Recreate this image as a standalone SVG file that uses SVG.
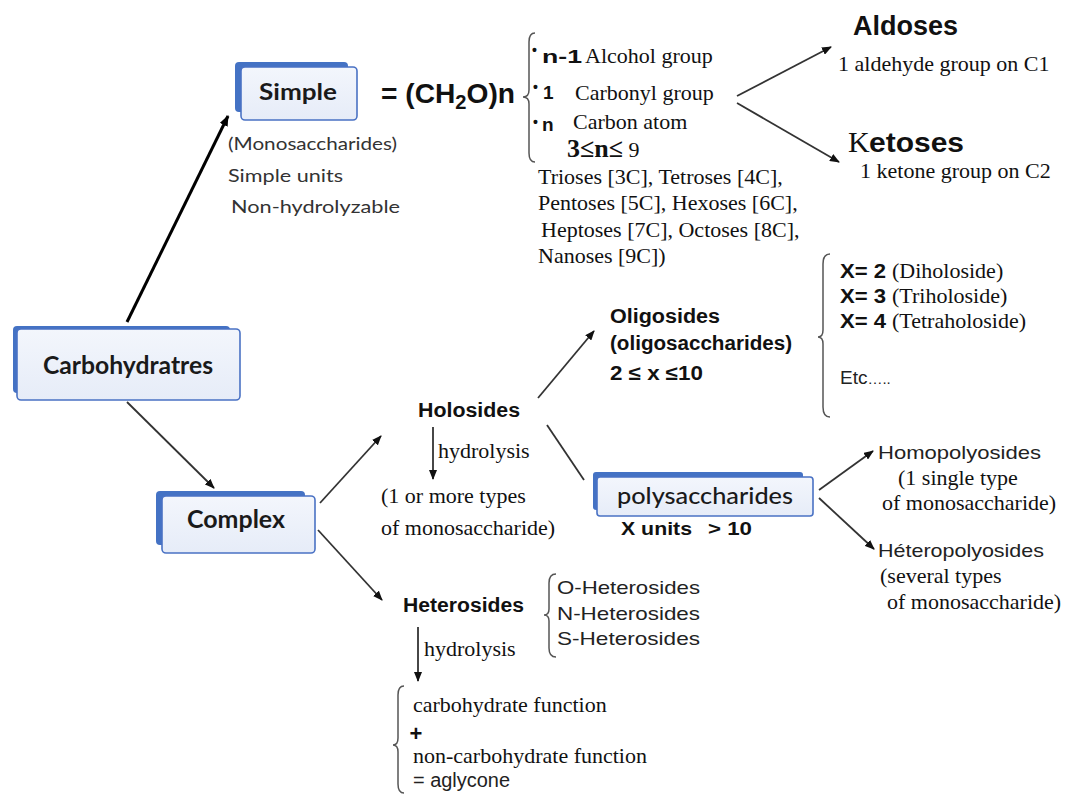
<svg xmlns="http://www.w3.org/2000/svg" width="1073" height="794" viewBox="0 0 1073 794">
<defs>
<marker id="ah" viewBox="0 0 10 8" refX="9" refY="4" markerWidth="10" markerHeight="8" markerUnits="userSpaceOnUse" orient="auto">
<path d="M0,0 L10,4 L0,8 z" fill="#111"/>
</marker>
<marker id="ahb" viewBox="0 0 10 8" refX="9" refY="4" markerWidth="11" markerHeight="9" markerUnits="userSpaceOnUse" orient="auto">
<path d="M0,0 L10,4 L0,8 z" fill="#000"/>
</marker>
<linearGradient id="bf" x1="0" y1="0" x2="0" y2="1">
<stop offset="0" stop-color="#f3f6fc"/>
<stop offset="1" stop-color="#e6ecf8"/>
</linearGradient>
</defs>
<style>
.back{fill:#4472c4}
.front{fill:url(#bf);stroke:#4a72c4;stroke-width:1.6}
.lbl{font-family:Lato,"Open Sans","Liberation Sans",sans-serif;font-weight:700;fill:#1a1a1a}
.ser{font-family:"Liberation Serif","Times New Roman",serif;fill:#111}
.sb{font-family:"Liberation Sans",Arial,sans-serif;font-weight:700;fill:#111}
.sr{font-family:"Liberation Sans",Arial,sans-serif;fill:#222}
.lt{font-family:Lato,"Open Sans",sans-serif;fill:#333}
.ln{stroke:#333;stroke-width:1.8;fill:none}
.br{stroke:#555;stroke-width:1.5;fill:none}
</style>
<rect width="1073" height="794" fill="#fff"/>

<g id="connectors">
<line x1="127" y1="322" x2="228" y2="116" stroke="#000" stroke-width="3" marker-end="url(#ahb)"/>
<line class="ln" x1="127" y1="402" x2="214" y2="488" marker-end="url(#ah)"/>
<line class="ln" x1="320" y1="503" x2="381" y2="436" marker-end="url(#ah)"/>
<line class="ln" x1="318" y1="530" x2="382" y2="600" marker-end="url(#ah)"/>
<line class="ln" x1="538" y1="398" x2="594" y2="331" marker-end="url(#ah)"/>
<line class="ln" x1="547" y1="425" x2="584" y2="480"/>
<line class="ln" x1="433" y1="427" x2="433" y2="479" marker-end="url(#ah)"/>
<line class="ln" x1="418" y1="627" x2="418" y2="681" marker-end="url(#ah)"/>
<line class="ln" x1="737" y1="96" x2="831" y2="47" marker-end="url(#ah)"/>
<line class="ln" x1="737" y1="103" x2="839" y2="162" marker-end="url(#ah)"/>
<line class="ln" x1="819" y1="490" x2="873" y2="451" marker-end="url(#ah)"/>
<line class="ln" x1="819" y1="498" x2="874" y2="549" marker-end="url(#ah)"/>
</g>

<g id="node-simple">
<rect class="back" x="235" y="62" width="113" height="50" rx="4"/>
<rect class="front" x="241" y="67" width="116" height="53" rx="4"/>
<text class="lbl" x="298" y="100" font-size="23" text-anchor="middle" textLength="78" lengthAdjust="spacingAndGlyphs">Simple</text>
</g>

<g id="simple-notes">
<text class="lt" x="228" y="150" font-size="18" textLength="169" lengthAdjust="spacingAndGlyphs">(Monosaccharides)</text>
<text class="lt" x="228" y="182" font-size="18" textLength="115" lengthAdjust="spacingAndGlyphs">Simple units</text>
<text class="lt" x="231" y="213" font-size="18" textLength="169" lengthAdjust="spacingAndGlyphs">Non-hydrolyzable</text>
</g>

<g id="formula">
<text class="sb" x="381" y="103" font-size="28" textLength="134" lengthAdjust="spacingAndGlyphs">= (CH<tspan font-size="20" dy="6">2</tspan><tspan dy="-6">O)n</tspan></text>
<path class="br" d="M535,33 Q529,33 529,42 L529,90 Q529,97 523,97 Q529,97 529,104 L529,153 Q529,162 535,162"/>
<text class="sb" x="532" y="55" font-size="14">•</text>
<text class="sb" x="542" y="63" font-size="19" textLength="40" lengthAdjust="spacingAndGlyphs">n-1</text>
<text class="ser" x="585" y="63" font-size="22">Alcohol group</text>
<text class="sb" x="533" y="92" font-size="14">•</text>
<text class="sb" x="543" y="99" font-size="19">1</text>
<text class="ser" x="575" y="100" font-size="22">Carbonyl group</text>
<text class="sb" x="533" y="127" font-size="14">•</text>
<text class="sb" x="542" y="131" font-size="19">n</text>
<text class="ser" x="573" y="129" font-size="22">Carbon atom</text>
<text class="ser" x="567" y="157" font-size="26" font-weight="700">3≤n≤<tspan font-weight="400" font-size="22"> 9</tspan></text>
<text class="ser" x="538" y="184" font-size="22">Trioses [3C], Tetroses [4C],</text>
<text class="ser" x="538" y="210" font-size="22">Pentoses [5C], Hexoses [6C],</text>
<text class="ser" x="541" y="237" font-size="22">Heptoses [7C], Octoses [8C],</text>
<text class="ser" x="538" y="263" font-size="22">Nanoses [9C])</text>
</g>

<g id="node-aldoses">
<text class="sb" x="853" y="35" font-size="27" textLength="105" lengthAdjust="spacingAndGlyphs">Aldoses</text>
<text class="ser" x="838" y="71" font-size="22">1 aldehyde group on C1</text>
</g>

<g id="node-ketoses">
<text class="ser" x="848" y="152" font-size="30">K</text>
<text class="sb" x="869" y="152" font-size="27" textLength="95" lengthAdjust="spacingAndGlyphs">etoses</text>
<text class="ser" x="860" y="178" font-size="22">1 ketone group on C2</text>
</g>

<g id="node-carbohydrates">
<rect class="back" x="13" y="326" width="217" height="67" rx="4"/>
<rect class="front" x="17" y="329" width="223" height="71" rx="4"/>
<text class="lbl" x="128" y="374" font-size="24" text-anchor="middle" textLength="170" lengthAdjust="spacingAndGlyphs">Carbohydratres</text>
</g>

<g id="node-complex">
<rect class="back" x="156" y="491" width="149" height="54" rx="4"/>
<rect class="front" x="162" y="496" width="153" height="57" rx="4"/>
<text class="lbl" x="236" y="528" font-size="24" text-anchor="middle" textLength="98" lengthAdjust="spacingAndGlyphs">Complex</text>
</g>

<g id="node-holosides">
<text class="sb" x="418" y="417" font-size="20" textLength="102" lengthAdjust="spacingAndGlyphs">Holosides</text>
<text class="ser" x="438" y="458" font-size="22">hydrolysis</text>
<text class="ser" x="381" y="503" font-size="22">(1 or more types</text>
<text class="ser" x="381" y="535" font-size="22">of monosaccharide)</text>
</g>

<g id="node-oligosides">
<text class="sb" x="610" y="323" font-size="20" textLength="110" lengthAdjust="spacingAndGlyphs">Oligosides</text>
<text class="sb" x="610" y="350" font-size="20" textLength="182" lengthAdjust="spacingAndGlyphs">(oligosaccharides)</text>
<text class="sb" x="610" y="380" font-size="20" textLength="93" lengthAdjust="spacingAndGlyphs">2 ≤ x ≤10</text>
</g>

<g id="oligo-list">
<path class="br" d="M830,254 Q823,254 823,264 L823,330 Q823,337 818,337 Q823,337 823,344 L823,407 Q823,417 830,417"/>
<text class="sb" x="840" y="278" font-size="20" textLength="46" lengthAdjust="spacingAndGlyphs">X= 2</text>
<text class="ser" x="892" y="278" font-size="22">(Diholoside)</text>
<text class="sb" x="840" y="303" font-size="20" textLength="46" lengthAdjust="spacingAndGlyphs">X= 3</text>
<text class="ser" x="892" y="303" font-size="22">(Triholoside)</text>
<text class="sb" x="840" y="328" font-size="20" textLength="46" lengthAdjust="spacingAndGlyphs">X= 4</text>
<text class="ser" x="892" y="328" font-size="22">(Tetraholoside)</text>
<text class="sr" x="840" y="384" font-size="19">Etc<tspan font-size="15">…..</tspan></text>
</g>

<g id="node-polysaccharides">
<rect class="back" x="593" y="472" width="210" height="38" rx="3"/>
<rect class="front" x="597" y="477" width="216" height="39" rx="3"/>
<text class="lbl" x="705" y="504" font-size="23" text-anchor="middle" textLength="176" lengthAdjust="spacingAndGlyphs" style="font-weight:500">polysaccharides</text>
<text class="sb" x="621" y="535" font-size="19" textLength="71" lengthAdjust="spacingAndGlyphs">X units</text>
<text class="sb" x="708" y="535" font-size="19" textLength="44" lengthAdjust="spacingAndGlyphs">&gt; 10</text>
</g>

<g id="node-homopolyosides">
<text class="sr" x="878" y="459" font-size="19" textLength="163" lengthAdjust="spacingAndGlyphs">Homopolyosides</text>
<text class="ser" x="898" y="485" font-size="22">(1 single type</text>
<text class="ser" x="882" y="510" font-size="22">of monosaccharide)</text>
</g>

<g id="node-heteropolyosides">
<text class="sr" x="878" y="557" font-size="19" textLength="166" lengthAdjust="spacingAndGlyphs">Héteropolyosides</text>
<text class="ser" x="880" y="583" font-size="22">(several types</text>
<text class="ser" x="887" y="609" font-size="22">of monosaccharide)</text>
</g>

<g id="node-heterosides">
<text class="sb" x="403" y="612" font-size="20" textLength="121" lengthAdjust="spacingAndGlyphs">Heterosides</text>
<path class="br" d="M556,574 Q549,574 549,583 L549,609 Q549,615 544,615 Q549,615 549,621 L549,648 Q549,657 556,657"/>
<text class="sr" x="557" y="594" font-size="19" textLength="143" lengthAdjust="spacingAndGlyphs">O-Heterosides</text>
<text class="sr" x="557" y="620" font-size="19" textLength="143" lengthAdjust="spacingAndGlyphs">N-Heterosides</text>
<text class="sr" x="557" y="645" font-size="19" textLength="143" lengthAdjust="spacingAndGlyphs">S-Heterosides</text>
<text class="ser" x="424" y="656" font-size="22">hydrolysis</text>
</g>

<g id="hydrolysis-products">
<path class="br" d="M404,686 Q398,686 398,695 L398,738 Q398,745 393,745 Q398,745 398,752 L398,784 Q398,793 404,793"/>
<text class="ser" x="413" y="712" font-size="22">carbohydrate function</text>
<text class="sb" x="416" y="741" font-size="22" text-anchor="middle">+</text>
<text class="ser" x="413" y="763" font-size="22">non-carbohydrate function</text>
<text class="sr" x="413" y="787" font-size="20" textLength="97" lengthAdjust="spacingAndGlyphs">= aglycone</text>
</g>
</svg>
